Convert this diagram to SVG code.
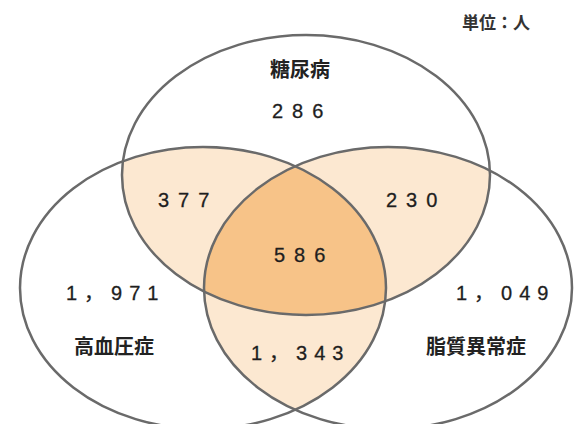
<svg xmlns="http://www.w3.org/2000/svg" xmlns:xlink="http://www.w3.org/1999/xlink" width="584" height="424" viewBox="0 0 584 424">
<style>
.outline{fill:none;stroke:#6a6a6a;stroke-width:2.5}
.light{fill:#FCE8D1}
.dark{fill:#F7C388}
.lbl{font-family:"Noto Sans CJK JP","Noto Sans",sans-serif;font-weight:700;font-size:20px;fill:#222}
.num{font-family:"Liberation Sans","Noto Sans CJK JP",sans-serif;font-size:20px;fill:#1e1e1e;stroke:#1e1e1e;stroke-width:0.3;letter-spacing:9px}
.num.c{letter-spacing:7px}
.unit{font-family:"Noto Sans CJK JP",sans-serif;font-weight:700;font-size:17px;fill:#333}
</style>
<defs>
<ellipse id="eT" cx="306" cy="175" rx="184" ry="140"/>
<ellipse id="eL" cx="203" cy="288" rx="183" ry="141"/>
<ellipse id="eR" cx="388" cy="288" rx="184" ry="141"/>
<clipPath id="cT"><use xlink:href="#eT"/></clipPath>
<clipPath id="cL"><use xlink:href="#eL"/></clipPath>
</defs>
<rect width="584" height="424" fill="#fff"/>
<text class="unit" x="462" y="29">単位：人</text>
<g id="overlaps">
<g clip-path="url(#cT)"><use xlink:href="#eL" class="light"/><use xlink:href="#eR" class="light"/></g>
<g clip-path="url(#cL)"><use xlink:href="#eR" class="light"/></g>
<g clip-path="url(#cT)"><g clip-path="url(#cL)"><use xlink:href="#eR" class="dark"/></g></g>
</g>
<g id="diabetes">
<use xlink:href="#eT" class="outline"/>
<text class="lbl" x="270" y="77">糖尿病</text>
<text class="num" x="272" y="118">286</text>
</g>
<g id="hypertension">
<use xlink:href="#eL" class="outline"/>
<text class="num c" x="66" y="300">1，971</text>
<text class="lbl" x="74" y="354">高血圧症</text>
</g>
<g id="dyslipidemia">
<use xlink:href="#eR" class="outline"/>
<text class="num c" x="456" y="300">1，049</text>
<text class="lbl" x="426" y="354">脂質異常症</text>
</g>
<g id="overlap-labels">
<text class="num" x="158" y="207">377</text>
<text class="num" x="386" y="207">230</text>
<text class="num" x="274" y="262">586</text>
<text class="num c" x="251" y="360">1，343</text>
</g>
</svg>
